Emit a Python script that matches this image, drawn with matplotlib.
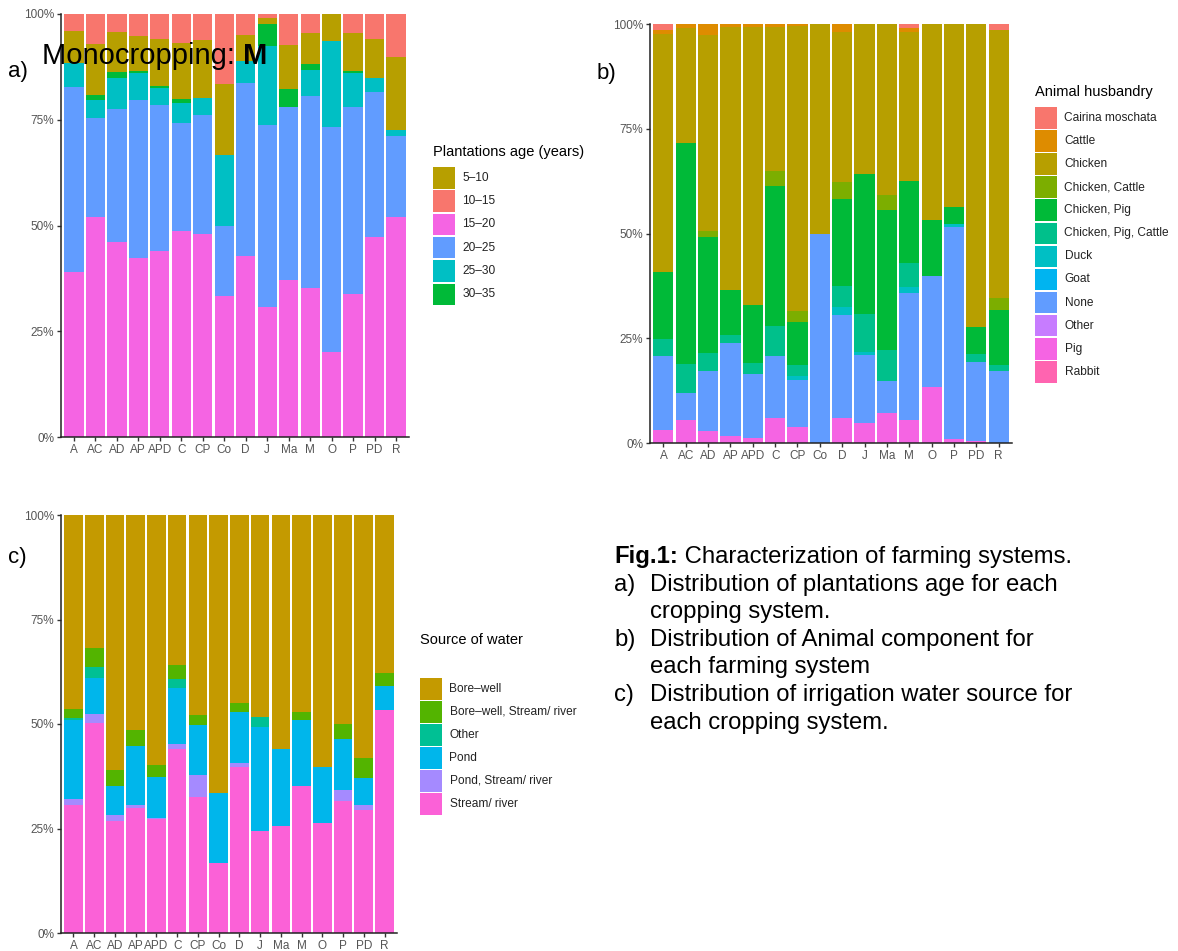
import numpy as np
import matplotlib
matplotlib.use('Agg')
import matplotlib.pyplot as plt
from matplotlib.patches import Rectangle

W, H = 1178, 951
plt.rcParams['font.family'] = ['Liberation Sans', 'DejaVu Sans']

systems = ['A', 'AC', 'AD', 'AP', 'APD', 'C', 'CP', 'Co', 'D', 'J', 'Ma', 'M', 'O', 'P', 'PD', 'R']

# a) plantations age (% of farms per system)
age_15_20 = [39.1, 52.0, 46.2, 42.2, 44.0, 48.6, 48.0, 33.3, 42.8, 30.8, 37.1, 35.3, 20.0, 33.7, 47.2, 52.1]
age_20_25 = [43.6, 23.4, 31.3, 37.5, 34.6, 25.7, 28.1, 16.7, 40.8, 43.2, 40.8, 45.3, 53.4, 44.4, 34.4, 19.1]
age_25_30 = [5.8, 4.2, 7.3, 6.3, 3.8, 4.6, 4.0, 16.7, 5.2, 18.7, 0.0, 6.2, 20.1, 7.9, 3.2, 1.4]
age_30_35 = [0.0, 1.2, 1.6, 0.5, 0.6, 1.1, 0.0, 0.0, 0.0, 5.3, 4.4, 1.3, 0.0, 0.5, 0.0, 0.0]
age_5_10 = [7.5, 12.2, 9.3, 8.4, 11.1, 13.1, 13.8, 16.7, 6.2, 1.4, 10.4, 7.3, 6.5, 8.9, 9.2, 17.2]
age_10_15 = [4.0, 7.0, 4.3, 5.1, 5.9, 6.9, 6.1, 16.6, 5.0, 1.0, 7.3, 4.6, 0.0, 4.6, 6.0, 10.2]

# b) animal husbandry (% of farms per system)
an_pig = [3.2, 5.6, 2.8, 1.6, 1.2, 6.0, 3.7, 0.0, 6.0, 4.8, 7.2, 5.4, 13.3, 1.0, 0.4, 0.0]
an_none = [17.5, 6.3, 14.3, 22.2, 15.3, 14.8, 11.4, 50.0, 24.6, 16.1, 7.5, 30.4, 26.6, 50.5, 18.9, 17.3]
an_duck = [0.0, 0.0, 0.0, 0.0, 0.0, 0.0, 0.8, 0.0, 1.8, 0.9, 0.0, 1.5, 0.0, 0.8, 0.0, 0.0]
an_chk_pig_cattle = [4.2, 7.0, 4.4, 1.9, 2.6, 7.2, 2.8, 0.0, 5.1, 9.0, 7.4, 5.6, 0.0, 0.0, 2.0, 1.4]
an_chk_pig = [16.0, 52.6, 27.6, 10.9, 13.9, 33.4, 10.1, 0.0, 20.7, 33.4, 33.4, 19.7, 13.4, 4.0, 6.5, 13.1]
an_chk_cattle = [0.0, 0.0, 1.4, 0.0, 0.0, 3.4, 2.8, 0.0, 4.0, 0.0, 3.7, 0.0, 0.0, 0.0, 0.0, 2.9]
an_chicken = [56.6, 27.5, 46.9, 62.8, 66.4, 34.4, 67.9, 50.0, 36.0, 35.8, 40.8, 35.4, 46.7, 43.7, 72.2, 63.9]
an_cattle = [1.1, 1.0, 2.6, 0.6, 0.6, 0.8, 0.5, 0.0, 1.8, 0.0, 0.0, 1.0, 0.0, 0.0, 0.0, 0.0]
an_cairina = [1.4, 0.0, 0.0, 0.0, 0.0, 0.0, 0.0, 0.0, 0.0, 0.0, 0.0, 1.0, 0.0, 0.0, 0.0, 1.4]

# c) source of water (% of farms per system)
w_stream = [30.7, 50.3, 26.7, 30.0, 27.3, 43.9, 32.6, 16.7, 39.7, 24.4, 25.6, 35.1, 26.3, 31.6, 29.4, 53.3]
w_pond_stream = [1.3, 2.1, 1.5, 0.7, 0.3, 1.4, 5.2, 0.0, 0.9, 0.0, 0.0, 0.0, 0.0, 2.7, 1.2, 0.0]
w_pond = [19.0, 8.5, 7.0, 14.0, 9.7, 13.4, 11.9, 16.7, 12.3, 24.9, 18.5, 15.8, 13.4, 12.2, 6.4, 5.8]
w_other = [0.4, 2.8, 0.0, 0.0, 0.0, 2.0, 0.0, 0.0, 0.0, 2.4, 0.0, 0.0, 0.0, 0.0, 0.0, 0.0]
w_bore_stream = [2.1, 4.6, 3.7, 3.8, 2.9, 3.4, 2.4, 0.0, 2.2, 0.0, 0.0, 2.0, 0.0, 3.5, 4.9, 3.0]
w_bore = [46.5, 31.7, 61.1, 51.5, 59.8, 35.9, 47.9, 66.6, 44.9, 48.3, 55.9, 47.1, 60.3, 50.0, 58.1, 37.9]

age_stack = [(age_15_20, '#F564E3'), (age_20_25, '#619CFF'), (age_25_30, '#00BFC4'),
             (age_30_35, '#00BA38'), (age_5_10, '#B79F00'), (age_10_15, '#F8766D')]
age_legend = [('5–10', '#B79F00'), ('10–15', '#F8766D'), ('15–20', '#F564E3'),
              ('20–25', '#619CFF'), ('25–30', '#00BFC4'), ('30–35', '#00BA38')]

an_stack = [(an_pig, '#F564E3'), (an_none, '#619CFF'), (an_duck, '#00BFC4'),
            (an_chk_pig_cattle, '#00C08B'), (an_chk_pig, '#00BA38'), (an_chk_cattle, '#7CAE00'),
            (an_chicken, '#B79F00'), (an_cattle, '#DE8C00'), (an_cairina, '#F8766D')]
an_legend = [('Cairina moschata', '#F8766D'), ('Cattle', '#DE8C00'), ('Chicken', '#B79F00'),
             ('Chicken, Cattle', '#7CAE00'), ('Chicken, Pig', '#00BA38'),
             ('Chicken, Pig, Cattle', '#00C08B'), ('Duck', '#00BFC4'), ('Goat', '#00B4F0'),
             ('None', '#619CFF'), ('Other', '#C77CFF'), ('Pig', '#F564E3'), ('Rabbit', '#FF64B0')]

w_stack = [(w_stream, '#FB61D7'), (w_pond_stream, '#A58AFF'), (w_pond, '#00B6EB'),
           (w_other, '#00C094'), (w_bore_stream, '#53B400'), (w_bore, '#C49A00')]
w_legend = [('Bore–well', '#C49A00'), ('Bore–well, Stream/ river', '#53B400'),
            ('Other', '#00C094'), ('Pond', '#00B6EB'), ('Pond, Stream/ river', '#A58AFF'),
            ('Stream/ river', '#FB61D7')]

fig = plt.figure(figsize=(W / 100, H / 100), dpi=100)


def fx(px):
    return px / W


def fy(py):
    return 1 - py / H


def panel(left, right, top, bottom, stack):
    ax = fig.add_axes([fx(left), fy(bottom), (right - left) / W, (bottom - top) / H])
    x = np.arange(len(systems))
    arr = np.array([s for s, _ in stack], dtype=float)
    frac = arr / arr.sum(axis=0)
    base = np.zeros(len(systems))
    for row, (_, col) in zip(frac, stack):
        ax.bar(x, row, width=0.9, bottom=base, color=col, linewidth=0)
        base += row
    ax.set_xlim(-0.6, len(systems) - 0.4)
    ax.set_ylim(0, 1)
    ax.set_xticks(x)
    ax.set_xticklabels(systems)
    ax.set_yticks([0, 0.25, 0.5, 0.75, 1])
    ax.set_yticklabels(['0%', '25%', '50%', '75%', '100%'])
    for s in ['top', 'right']:
        ax.spines[s].set_visible(False)
    for s in ['left', 'bottom']:
        ax.spines[s].set_linewidth(1.1)
        ax.spines[s].set_color('#222222')
    ax.tick_params(length=3, width=1, color='#333333', labelsize=8.5,
                   labelcolor='#555555', pad=2)
    return ax


def legend(x, y_title, y_first, title, items, pitch, gap=8):
    fig.text(fx(x), fy(y_title), title, fontsize=10.5, va='center', ha='left')
    for i, (lab, col) in enumerate(items):
        top = y_first + i * pitch
        fig.add_artist(Rectangle((fx(x), fy(top + 21.5)), 21.5 / W, 21.5 / H,
                                 transform=fig.transFigure, facecolor=col, edgecolor='none'))
        fig.text(fx(x + 21.5 + gap), fy(top + 10.75), lab, fontsize=8.6, va='center', ha='left',
                 color='#222222')


panel(61, 409, 14, 437, age_stack)
panel(650, 1012, 24, 443, an_stack)
panel(61, 397, 515, 933, w_stack)

legend(433, 152, 167, 'Plantations age (years)', age_legend, 23.3)
legend(1035, 92, 107, 'Animal husbandry', an_legend, 23.1)
legend(420, 640, 678, 'Source of water', w_legend, 23.0)

fig.text(fx(8), fy(72), 'a)', fontsize=16, va='center')
fig.text(fx(597), fy(73), 'b)', fontsize=16, va='center')
fig.text(fx(8), fy(557), 'c)', fontsize=16, va='center')

renderer = fig.canvas.get_renderer()


def mixed(x, y, parts, size):
    # parts: list of (text, weight), drawn one after the other on one line
    for txt, wt in parts:
        t = fig.text(fx(x), fy(y), txt, fontsize=size, fontweight=wt, va='baseline', ha='left')
        x = t.get_window_extent(renderer).x1


mixed(42, 64, [('Monocropping: ', 'normal'), ('M', 'bold')], 21)

cap_size = 17.2
line_y = [563 + 27.6 * i for i in range(7)]
mixed(614, line_y[0], [('Fig.1:', 'bold'), (' Characterization of farming systems.', 'normal')], cap_size)
cap_lines = [('a)', 'Distribution of plantations age for each'), ('', 'cropping system.'),
             ('b)', 'Distribution of Animal component for'), ('', 'each farming system'),
             ('c)', 'Distribution of irrigation water source for'), ('', 'each cropping system.')]
for (lab, txt), y in zip(cap_lines, line_y[1:]):
    if lab:
        fig.text(fx(614), fy(y), lab, fontsize=cap_size, va='baseline')
    fig.text(fx(650), fy(y), txt, fontsize=cap_size, va='baseline')

fig.savefig('out.png', dpi=100)
